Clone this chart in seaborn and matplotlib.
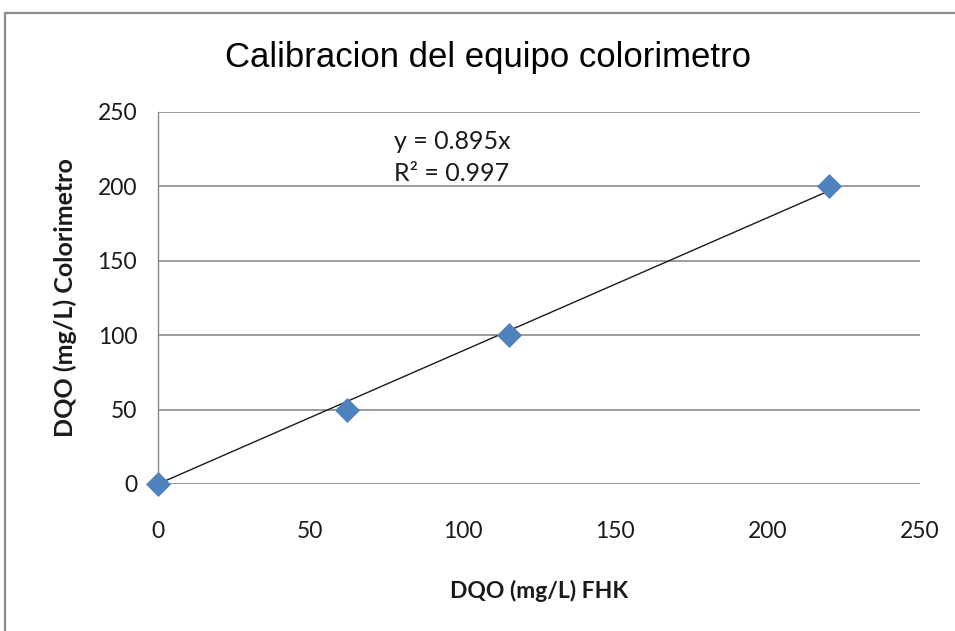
import matplotlib
matplotlib.use("Agg")
import matplotlib.pyplot as plt
import seaborn as sns
import numpy as np
import pandas as pd
from matplotlib.patches import Rectangle

# Data
fhk = [0, 62, 115, 220]
colorimetro = [0, 50, 100, 200]
slope = 0.895
r2 = 0.997
xticks = [0, 50, 100, 150, 200, 250]
yticks = [0, 50, 100, 150, 200, 250]

title = "Calibracion del equipo colorimetro"
xlabel = "DQO (mg/L) FHK"
ylabel = "DQO (mg/L) Colorimetro"

sns.set_theme(style="white")
plt.rcParams['font.family'] = ['Lato', 'DejaVu Sans']

fig = plt.figure(figsize=(9.55, 6.31), dpi=100)
fig.patch.set_facecolor("white")

# outer chart frame
fig.patches.append(Rectangle((5, -20), 1000, 638, transform=None, fill=False,
                             edgecolor="#8c8c8c", linewidth=1.6))

ax = fig.add_axes([158/955, 147/631, 762/955, 372/631])

df = pd.DataFrame({"x": fhk, "y": colorimetro})
trend_x = np.array([min(fhk), max(fhk)])
trend = pd.DataFrame({"x": trend_x, "y": slope * trend_x})

ax.set_xlim(0, 250)
ax.set_ylim(0, 250)
ax.set_xticks(xticks)
ax.set_yticks(yticks)
ax.yaxis.grid(True, color="#8a8a8a", linewidth=1.2)
ax.xaxis.grid(False)
ax.set_axisbelow(True)

sns.lineplot(data=trend, x="x", y="y", ax=ax, color="#1a1a1a", linewidth=1.0, zorder=3)
sns.scatterplot(data=df, x="x", y="y", ax=ax, marker="D", s=150, color="#4F81BD",
                edgecolor="#4F81BD", linewidth=0.5, zorder=4, clip_on=False)

for s in ["top", "right", "bottom"]:
    ax.spines[s].set_visible(False)
ax.spines["left"].set_color("#8a8a8a")
ax.spines["left"].set_linewidth(1.0)

ax.tick_params(axis="both", length=0, labelsize=16.5, colors="#1a1a1a")
ax.tick_params(axis="y", pad=15)
ax.tick_params(axis="x", pad=27)
ax.set_xlabel(xlabel, fontsize=16.5, fontweight="bold", labelpad=27, color="#1a1a1a")
ax.set_ylabel(ylabel, fontsize=18, fontweight="bold", labelpad=15, color="#1a1a1a")

fig.text(488/955, 1 - 57/631, title, ha="center", va="center", fontsize=25,
         family=["Liberation Sans", "DejaVu Sans"], color="#000000")

ax.text(0.31, 0.92, f"y = {slope}x", transform=ax.transAxes, fontsize=18,
        va="center", ha="left", color="#1a1a1a")
ax.text(0.31, 0.835, f"R\u00b2 = {r2}", transform=ax.transAxes, fontsize=18,
        va="center", ha="left", color="#1a1a1a")

fig.savefig("out.png", dpi=100, facecolor="white")
